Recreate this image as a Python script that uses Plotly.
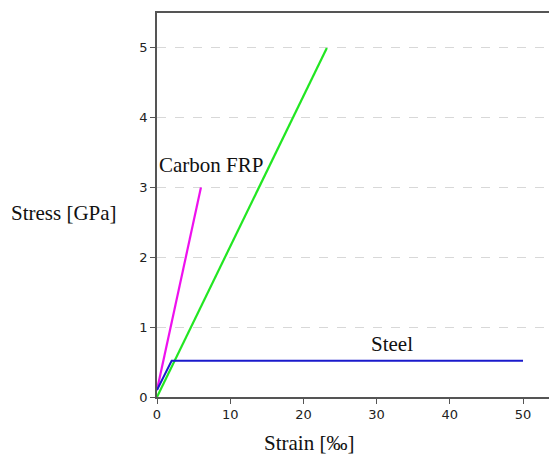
import plotly.graph_objects as go

# Data
carbon_strain = [0, 6]
carbon_stress = [0.1, 3]
green_strain = [0, 23.2]
green_stress = [0, 5]
steel_strain = [0, 2, 50]
steel_stress = [0.1, 0.52, 0.52]
x_ticks = [0, 10, 20, 30, 40, 50]
y_ticks = [0, 1, 2, 3, 4, 5]

fig = go.Figure()
fig.add_trace(go.Scatter(x=green_strain, y=green_stress, mode="lines",
                         line=dict(color="#22e622", width=2.2), showlegend=False))
fig.add_trace(go.Scatter(x=carbon_strain, y=carbon_stress, mode="lines",
                         line=dict(color="#ee11ee", width=2.2), showlegend=False))
fig.add_trace(go.Scatter(x=steel_strain, y=steel_stress, mode="lines",
                         line=dict(color="#1a1acc", width=2), showlegend=False))

serif = dict(family="Liberation Serif", size=21, color="#111")
fig.add_annotation(x=0.05, y=3.32, text="Carbon FRP", showarrow=False, xanchor="left", font=serif)
fig.add_annotation(x=32.1, y=0.76, text="Steel", showarrow=False, font=serif)
fig.add_annotation(x=0, y=0.48, xref="paper", yref="paper", text="Stress [GPa]",
                   showarrow=False, xanchor="right", xshift=-38, font=serif)
fig.add_annotation(x=20.7, y=0, xref="x", yref="paper", text="Strain [‰]",
                   showarrow=False, yanchor="middle", yshift=-46, font=serif)

fig.update_layout(
    width=549, height=455,
    margin=dict(l=157, r=0, t=13, b=58),
    paper_bgcolor="white", plot_bgcolor="white",
)
fig.update_xaxes(range=[0, 53.55], tickvals=x_ticks, showgrid=False, zeroline=False,
                 showline=True, linecolor="#555", linewidth=1.5, mirror=True,
                 ticks="outside", ticklen=5, tickcolor="#555",
                 tickfont=dict(family="DejaVu Sans", size=13, color="#222"))
fig.update_yaxes(range=[0, 5.5], tickvals=y_ticks, showgrid=True, gridcolor="#d8d8d8",
                 griddash="dash", gridwidth=1, zeroline=False,
                 showline=True, linecolor="#555", linewidth=1.5,
                 ticks="outside", ticklen=5, tickcolor="#555",
                 tickfont=dict(family="DejaVu Sans", size=13, color="#222"))

fig.write_html("out.html", config={"displayModeBar": False},
               post_script="document.body.style.margin='0';document.body.style.overflow='hidden';")
